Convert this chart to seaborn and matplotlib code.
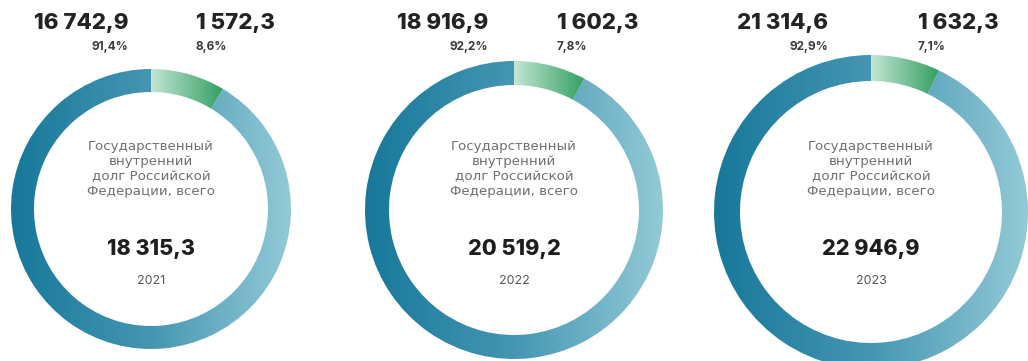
import numpy as np
import matplotlib
matplotlib.use("Agg")
import matplotlib.pyplot as plt
import seaborn as sns

# данные (млрд руб.)
years = ["2021", "2022", "2023"]
market_debt = [16742.9, 18916.9, 21314.6]
other_debt = [1572.3, 1602.3, 1632.3]
total_debt = [18315.3, 20519.2, 22946.9]
center_label = "Государственный\nвнутренний\nдолг Российской\nФедерации, всего"

sns.set_theme(style="white")
plt.rcParams["font.family"] = ["Inter", "DejaVu Sans"]

W, H = 1028, 361
fig = plt.figure(figsize=(W / 100, H / 100), dpi=100)
ax = fig.add_axes([0, 0, 1, 1])

blue_cmap = sns.blend_palette(["#17789a", "#4596b2", "#93cad7"], as_cmap=True)
green_cmap = sns.blend_palette(["#c3e6d5", "#2e9d5f"], as_cmap=True)
grad = np.linspace(0, 1, 256).reshape(1, -1)

# положение колец в пикселях: центр x, центр y (сверху), радиус, толщина
rings = [(151, 209, 140, 23), (514, 210, 149, 24), (871, 212, 157, 26)]
label_x = [(128, 196), (488, 557), (828, 918)]


def fmt(v):
    return f"{v:,.1f}".replace(",", " ").replace(".", ",")


def pct(v):
    return f"{v:.1f}%".replace(".", ",")


for i, (cx, cy_top, r, w) in enumerate(rings):
    cy = H - cy_top
    wedges, _ = ax.pie([other_debt[i], market_debt[i]], center=(cx, cy), radius=r,
                       startangle=90, counterclock=False,
                       wedgeprops=dict(width=w, linewidth=0, facecolor="none"))
    green, blue = wedges
    im = ax.imshow(grad, cmap=blue_cmap, aspect="auto",
                   extent=[cx - r, cx + r, cy - r, cy + r], zorder=1)
    im.set_clip_path(blue)
    frac = other_debt[i] / total_debt[i]
    gx = cx + r * np.sin(2 * np.pi * frac)
    im = ax.imshow(grad, cmap=green_cmap, aspect="auto",
                   extent=[cx, gx + 2, cy - r, cy + r], zorder=1)
    im.set_clip_path(green)

    xr, xl = label_x[i]
    ax.text(xr, H - 23, fmt(market_debt[i]), ha="right", va="center",
            fontsize=16, fontweight="heavy", color="#232323")
    ax.text(xr, H - 47, pct(market_debt[i] / total_debt[i] * 100), ha="right",
            va="center", fontsize=8.5, fontweight="bold", color="#3a3a3a")
    ax.text(xl, H - 23, fmt(other_debt[i]), ha="left", va="center",
            fontsize=16, fontweight="heavy", color="#232323")
    ax.text(xl, H - 47, pct(other_debt[i] / total_debt[i] * 100), ha="left",
            va="center", fontsize=8.5, fontweight="bold", color="#3a3a3a")

    ax.text(cx, H - 169, center_label, ha="center", va="center", fontsize=9.6,
            color="#707070", linespacing=1.2, family="DejaVu Sans")
    ax.text(cx, H - 249, fmt(total_debt[i]), ha="center", va="center",
            fontsize=15.5, fontweight="heavy", color="#1e1e1e")
    ax.text(cx, H - 281, years[i], ha="center", va="center", fontsize=9,
            color="#555555")

ax.set_xlim(0, W)
ax.set_ylim(0, H)
ax.set_aspect("equal")
ax.axis("off")

fig.savefig("out.png", dpi=100, facecolor="white")
